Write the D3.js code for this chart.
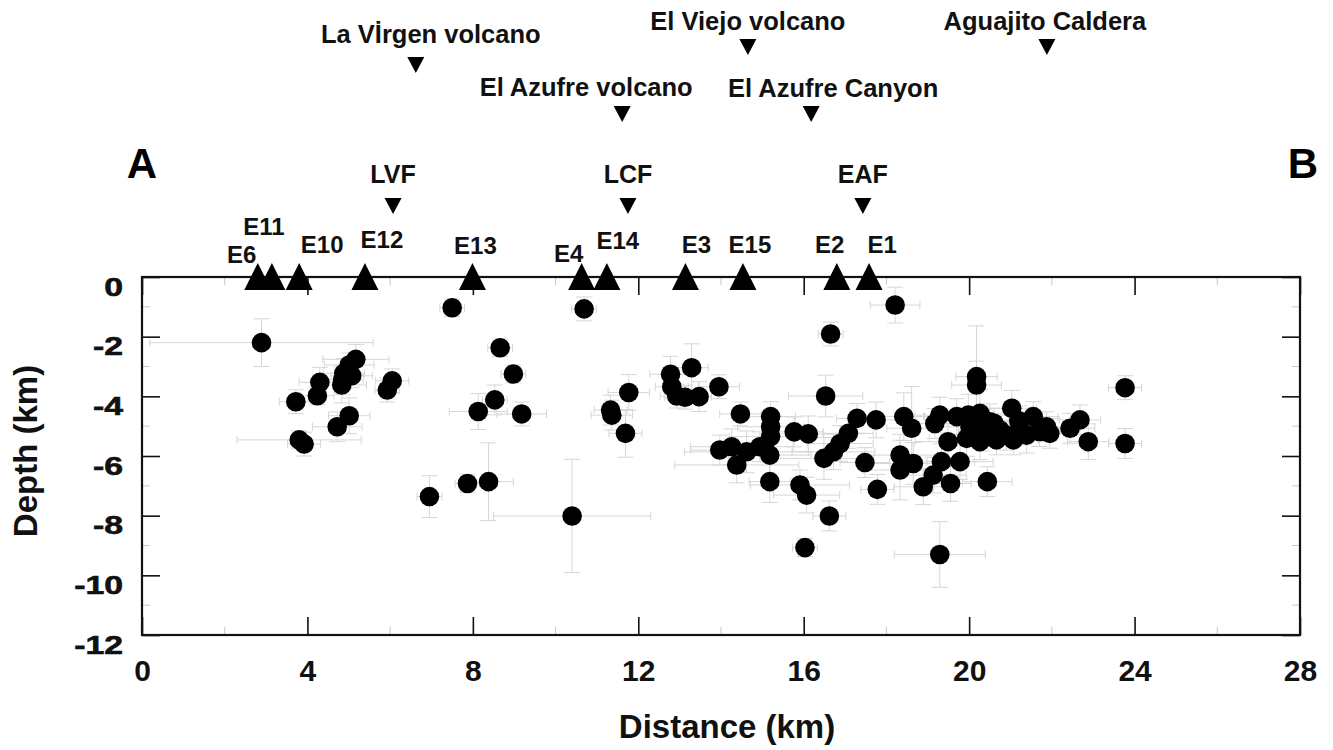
<!DOCTYPE html>
<html>
<head>
<meta charset="utf-8">
<script src="https://cdn.jsdelivr.net/npm/d3@7"></script>
<style>
  body { margin: 0; background: #fff; }
  svg { display: block; font-family: "Liberation Sans", Arial, Helvetica, sans-serif; font-weight: bold; }
  .minor line { stroke: #c8c8c8; stroke-width: 1; }
  .err line { stroke: #d6d6d6; stroke-width: 1; }
</style>
</head>
<body>
<div id="chart"></div>
<script>
// seismic stations (distance along profile, km)
var stationNames = ['E6', 'E11', 'E10', 'E12', 'E13', 'E4', 'E14', 'E3', 'E15', 'E2', 'E1'];
var stationKm    = [2.80, 3.14, 3.80, 5.39, 7.99, 10.63, 11.24, 13.14, 14.53, 16.80, 17.58];

// faults and volcanic features marked above the profile
var faultNames = ['LVF', 'LCF', 'EAF'];
var faultKm    = [6.07, 11.75, 17.43];
var featureNames = ['La Vİrgen volcano', 'El Azufre volcano', 'El Viejo volcano', 'El Azufre Canyon', 'Aguajito Caldera'];
var featureKm    = [6.62, 11.61, 14.65, 16.18, 21.88];

// hypocentres: [distance km, depth km, x error km, depth error km]
var quakes = [
  [2.89, -2.20, 2.7, 0.8], [3.72, -4.18, 0.4, 0.4], [4.30, -3.53, 0.5, 0.5], [4.24, -3.98, 0.4, 0.3],
  [4.83, -3.62, 0.6, 0.6], [4.88, -3.23, 0.5, 0.5], [5.01, -2.95, 0.6, 0.4], [5.17, -2.76, 0.8, 0.5],
  [5.07, -3.31, 0.5, 0.4], [4.85, -3.45, 0.5, 0.5], [3.80, -5.46, 1.5, 0.3], [3.92, -5.60, 0.4, 0.4],
  [4.72, -5.02, 0.6, 0.5], [5.01, -4.65, 0.5, 0.6], [5.93, -3.79, 0.3, 0.4], [6.05, -3.48, 0.4, 0.4],
  [7.50, -1.03, 0.3, 0.3], [8.66, -2.37, 0.3, 0.3], [8.98, -3.25, 0.3, 0.3], [8.53, -4.12, 0.3, 0.5],
  [8.13, -4.51, 0.7, 0.6], [9.18, -4.59, 0.6, 0.4], [6.95, -7.36, 0.3, 0.7], [7.87, -6.92, 0.3, 0.3],
  [8.38, -6.86, 0.6, 1.3], [10.40, -8.01, 1.9, 1.9], [10.69, -1.07, 0.3, 0.4], [11.77, -3.87, 0.5, 0.6],
  [11.33, -4.46, 0.4, 0.5], [11.36, -4.63, 0.5, 0.5], [11.69, -5.24, 0.4, 0.8], [12.78, -3.26, 0.5, 0.6],
  [13.29, -3.04, 0.4, 0.8], [12.81, -3.68, 0.4, 0.4], [12.93, -3.99, 0.4, 0.4], [13.13, -4.03, 0.5, 0.4],
  [13.47, -4.01, 0.3, 0.5], [13.95, -3.68, 0.5, 0.4], [14.47, -4.59, 0.5, 0.4], [15.20, -4.68, 0.6, 0.5],
  [15.20, -5.02, 0.8, 0.5], [15.20, -5.35, 1.0, 0.6], [15.77, -5.19, 0.7, 0.5], [16.11, -5.26, 0.8, 0.6],
  [13.97, -5.80, 0.7, 0.5], [14.26, -5.69, 1.0, 0.6], [14.62, -5.86, 1.5, 0.7], [14.94, -5.69, 0.8, 0.5],
  [15.18, -5.97, 1.0, 0.7], [14.38, -6.30, 1.5, 0.6], [15.18, -6.86, 0.5, 0.7], [15.91, -6.97, 1.2, 0.5],
  [16.07, -7.31, 0.8, 0.6], [16.62, -8.01, 0.4, 0.5], [16.03, -9.07, 0.3, 0.3], [18.21, -0.94, 0.6, 0.6],
  [16.65, -1.91, 0.3, 0.4], [16.53, -3.99, 0.9, 0.7], [16.49, -6.08, 1.2, 0.7], [16.72, -5.86, 1.0, 0.6],
  [16.88, -5.58, 0.8, 0.6], [17.08, -5.24, 0.6, 0.5], [17.29, -4.74, 0.5, 0.5], [17.48, -6.22, 0.6, 0.5],
  [17.78, -7.12, 0.4, 0.5], [17.75, -4.79, 0.5, 0.6], [18.42, -4.68, 0.5, 0.8], [18.61, -5.07, 0.6, 1.4],
  [19.29, -4.63, 0.6, 0.6], [19.17, -4.91, 0.7, 0.5], [19.70, -4.68, 0.8, 0.6], [19.98, -4.63, 0.6, 0.7],
  [20.26, -4.57, 0.7, 0.8], [20.50, -4.85, 0.8, 0.6], [21.03, -4.40, 0.6, 0.6], [21.55, -4.68, 0.6, 0.5],
  [21.87, -5.02, 0.5, 0.5], [21.95, -5.24, 0.5, 0.5], [22.44, -5.07, 0.6, 0.5], [22.68, -4.79, 0.5, 0.5],
  [22.88, -5.52, 0.5, 0.6], [23.77, -5.58, 0.4, 0.5], [19.49, -5.52, 0.8, 0.6], [19.94, -5.41, 0.9, 0.6],
  [20.26, -5.52, 0.7, 0.6], [20.66, -5.46, 0.7, 0.5], [21.07, -5.46, 0.6, 0.5], [21.39, -5.30, 0.5, 0.6],
  [20.02, -5.02, 0.7, 0.6], [20.34, -5.13, 0.6, 0.7], [20.74, -5.13, 0.6, 0.5], [21.23, -5.13, 0.6, 0.5],
  [20.60, -4.90, 0.6, 0.5], [21.20, -4.82, 0.6, 0.5], [20.90, -5.30, 0.6, 0.5], [21.70, -5.18, 0.5, 0.5],
  [18.33, -5.97, 0.9, 0.7], [18.33, -6.47, 0.9, 1.0], [18.65, -6.25, 1.0, 0.7], [18.89, -7.03, 0.7, 0.6],
  [19.13, -6.64, 0.8, 0.6], [19.33, -6.19, 0.8, 0.6], [19.78, -6.19, 0.8, 0.6], [19.55, -6.92, 0.5, 0.6],
  [20.44, -6.86, 0.6, 0.5], [19.29, -9.30, 1.1, 1.1], [20.18, -3.34, 0.5, 1.7], [20.18, -3.62, 0.6, 0.8],
  [23.77, -3.71, 0.4, 0.4]
];

var xTicks = [0, 4, 8, 12, 16, 20, 24, 28],
    xMinor = [2, 6, 10, 14, 18, 22, 26],
    yTicks = [0, -2, -4, -6, -8, -10, -12],
    yMinor = [-1, -3, -5, -7, -9, -11];

// label placement (pixel offsets, layout only)
var stationLabelDx = [-16, -8, 23, 17, 3, -13, 11, 11, 7, -7, 13],
    stationLabelY  = [263, 235, 253, 248, 254, 262, 249, 253, 253, 253, 253],
    featureLabelDx = [15, -36, 0, 22, -2],
    featureTextY   = [43, 96, 30, 97, 30],
    featureTriY    = [57, 106, 39, 106, 39];

var width = 1333, height = 750,
    area = { x1: 142, y1: 277, x2: 1300, y2: 635 },
    dotR = 9.8, majorLen = 18, minorLen = 8;

var x = d3.scaleLinear().domain([0, 28]).range([area.x1, area.x2]);
var y = d3.scaleLinear().domain([0, -12]).range([area.y1, area.y2]);

var svg = d3.select('#chart').append('svg')
    .attr('width', width)
    .attr('height', height);

// minor ticks, all four sides
var minor = svg.append('g').attr('class', 'minor');
xMinor.forEach(function(v) {
  minor.append('line').attr('x1', x(v)).attr('x2', x(v)).attr('y1', area.y2).attr('y2', area.y2 - minorLen);
  minor.append('line').attr('x1', x(v)).attr('x2', x(v)).attr('y1', area.y1).attr('y2', area.y1 + minorLen);
});
yMinor.forEach(function(v) {
  minor.append('line').attr('y1', y(v)).attr('y2', y(v)).attr('x1', area.x1).attr('x2', area.x1 + minorLen);
  minor.append('line').attr('y1', y(v)).attr('y2', y(v)).attr('x1', area.x2).attr('x2', area.x2 - minorLen);
});

// error bars
var cap = 4;
var err = svg.append('g').attr('class', 'err')
  .selectAll('g').data(quakes).enter().append('g');
err.append('line')
  .attr('x1', function(d) { return x(d[0] - d[2]); })
  .attr('x2', function(d) { return x(d[0] + d[2]); })
  .attr('y1', function(d) { return y(d[1]); })
  .attr('y2', function(d) { return y(d[1]); });
err.append('line')
  .attr('x1', function(d) { return x(d[0]); })
  .attr('x2', function(d) { return x(d[0]); })
  .attr('y1', function(d) { return y(d[1] - d[3]); })
  .attr('y2', function(d) { return y(d[1] + d[3]); });
[-1, 1].forEach(function(s) {
  err.append('line')
    .attr('x1', function(d) { return x(d[0] + s * d[2]); })
    .attr('x2', function(d) { return x(d[0] + s * d[2]); })
    .attr('y1', function(d) { return y(d[1]) - cap; })
    .attr('y2', function(d) { return y(d[1]) + cap; });
  err.append('line')
    .attr('x1', function(d) { return x(d[0]) - cap * 2; })
    .attr('x2', function(d) { return x(d[0]) + cap * 2; })
    .attr('y1', function(d) { return y(d[1] + s * d[3]); })
    .attr('y2', function(d) { return y(d[1] + s * d[3]); });
});

// axes: major ticks inside the frame
var bottomAxis = d3.axisBottom(x).tickValues(xTicks).tickSizeInner(-majorLen).tickSizeOuter(0).tickPadding(25);
var topAxis = d3.axisTop(x).tickValues(xTicks).tickSizeInner(-majorLen).tickSizeOuter(0).tickFormat('');
var leftAxis = d3.axisLeft(y).tickValues(yTicks).tickSizeInner(-majorLen).tickSizeOuter(0).tickPadding(19);
var rightAxis = d3.axisRight(y).tickValues(yTicks).tickSizeInner(-majorLen).tickSizeOuter(0).tickFormat('');

function styleAxis(g) {
  g.select('.domain').remove();
  g.selectAll('.tick line').attr('stroke', '#111').attr('stroke-width', 1.6);
  g.attr('font-family', null).attr('font-size', null);
}

svg.append('g').attr('transform', 'translate(0,' + area.y2 + ')').call(bottomAxis).call(styleAxis)
  .selectAll('text').attr('font-size', 30).attr('fill', '#111');
svg.append('g').attr('transform', 'translate(0,' + area.y1 + ')').call(topAxis).call(styleAxis);
svg.append('g').attr('transform', 'translate(' + area.x1 + ',0)').call(leftAxis).call(styleAxis)
  .selectAll('text')
    .attr('font-size', 26)
    .attr('fill', '#111')
    .attr('stroke', '#111')
    .attr('stroke-width', 0.6)
    .attr('dy', 18)
    .attr('transform', 'translate(-19,0) scale(1.3,1) translate(19,0)')
    .text(function(d) { return String(d); });
svg.append('g').attr('transform', 'translate(' + area.x2 + ',0)').call(rightAxis).call(styleAxis);

// frame
svg.append('rect')
  .attr('x', area.x1).attr('y', area.y1)
  .attr('width', area.x2 - area.x1).attr('height', area.y2 - area.y1)
  .attr('fill', 'none').attr('stroke', '#111').attr('stroke-width', 2.2);

// hypocentres
svg.append('g').selectAll('circle').data(quakes).enter().append('circle')
  .attr('cx', function(d) { return x(d[0]); })
  .attr('cy', function(d) { return y(d[1]); })
  .attr('r', dotR)
  .attr('fill', '#000');

// stations: up triangles on the surface
var upTri = 'M0,-14L13.5,13L-13.5,13Z';
svg.append('g').selectAll('path').data(stationKm).enter().append('path')
  .attr('d', upTri)
  .attr('transform', function(d) { return 'translate(' + x(d) + ',' + y(0) + ')'; })
  .attr('fill', '#000');
svg.append('g').selectAll('text').data(stationNames).enter().append('text')
  .attr('x', function(d, i) { return x(stationKm[i]) + stationLabelDx[i]; })
  .attr('y', function(d, i) { return stationLabelY[i]; })
  .attr('text-anchor', 'middle')
  .attr('font-size', 24)
  .attr('fill', '#111')
  .text(function(d) { return d; });

// faults: down triangles with labels
var downTri = 'M-8.5,0L8.5,0L0,16Z';
svg.append('g').selectAll('path').data(faultKm).enter().append('path')
  .attr('d', downTri)
  .attr('transform', function(d) { return 'translate(' + x(d) + ',198)'; })
  .attr('fill', '#000');
svg.append('g').selectAll('text').data(faultNames).enter().append('text')
  .attr('x', function(d, i) { return x(faultKm[i]); })
  .attr('y', 183)
  .attr('text-anchor', 'middle')
  .attr('font-size', 25)
  .attr('fill', '#111')
  .text(function(d) { return d; });

// volcanic features
svg.append('g').selectAll('path').data(featureKm).enter().append('path')
  .attr('d', downTri)
  .attr('transform', function(d, i) { return 'translate(' + x(d) + ',' + featureTriY[i] + ')'; })
  .attr('fill', '#000');
svg.append('g').selectAll('text').data(featureNames).enter().append('text')
  .attr('x', function(d, i) { return x(featureKm[i]) + featureLabelDx[i]; })
  .attr('y', function(d, i) { return featureTextY[i]; })
  .attr('text-anchor', 'middle')
  .attr('font-size', 25.5)
  .attr('fill', '#111')
  .text(function(d) { return d; });

// profile end labels
svg.append('text').attr('x', x(0)).attr('y', 178).attr('text-anchor', 'middle')
  .attr('font-size', 42).attr('fill', '#000').text('A');
svg.append('text').attr('x', 1303).attr('y', 178).attr('text-anchor', 'middle')
  .attr('font-size', 42).attr('fill', '#000').text('B');

// axis titles
svg.append('text').attr('x', 727).attr('y', 738).attr('text-anchor', 'middle')
  .attr('font-size', 33).attr('fill', '#111').text('Distance (km)');
svg.append('text').attr('transform', 'translate(37,451) rotate(-90)').attr('text-anchor', 'middle')
  .attr('font-size', 33).attr('fill', '#111').text('Depth (km)');
</script>
</body>
</html>
